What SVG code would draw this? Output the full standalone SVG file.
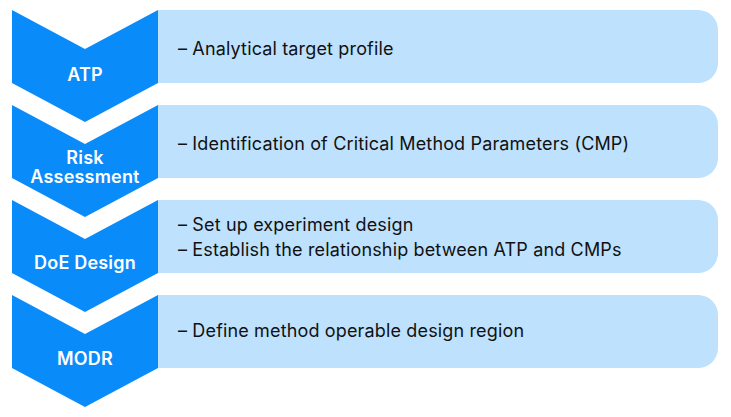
<svg xmlns="http://www.w3.org/2000/svg" width="731" height="417" viewBox="0 0 731 417">
<style>
.chev{fill:#0A8BFA}
.box{fill:#BEE1FD}
.lbl{font-family:Inter,"Noto Sans","Liberation Sans",sans-serif;font-size:18px;font-weight:600;fill:#fff;text-anchor:middle;letter-spacing:0.2px}
.txt{font-family:Inter,"Noto Sans","Liberation Sans",sans-serif;font-size:18px;fill:#111;letter-spacing:0.15px}
</style>
<rect width="731" height="417" fill="#fff"/>
<g id="step-atp">
<path class="box" d="M158 10H698A20 20 0 0 1 718 30V63A20 20 0 0 1 698 83H158Z"/>
<path class="chev" d="M12 10L85 49L158 10V83L85 122L12 83Z"/>
<text class="lbl" x="85" y="81">ATP</text>
<text class="txt" x="178" y="55">– Analytical target profile</text>
</g>
<g id="step-risk">
<path class="box" d="M158 105H698A20 20 0 0 1 718 125V158A20 20 0 0 1 698 178H158Z"/>
<path class="chev" d="M12 105L85 144L158 105V178L85 217L12 178Z"/>
<text class="lbl" x="85" y="164">Risk</text>
<text class="lbl" x="85" y="183">Assessment</text>
<text class="txt" x="178" y="150">– Identification of Critical Method Parameters (CMP)</text>
</g>
<g id="step-doe">
<path class="box" d="M158 200H698A20 20 0 0 1 718 220V253A20 20 0 0 1 698 273H158Z"/>
<path class="chev" d="M12 200L85 239L158 200V273L85 312L12 273Z"/>
<text class="lbl" x="85" y="269">DoE Design</text>
<text class="txt" x="178" y="231">– Set up experiment design</text>
<text class="txt" x="178" y="256">– Establish the relationship between ATP and CMPs</text>
</g>
<g id="step-modr">
<path class="box" d="M158 295H698A20 20 0 0 1 718 315V348A20 20 0 0 1 698 368H158Z"/>
<path class="chev" d="M12 295L85 334L158 295V368L85 407L12 368Z"/>
<text class="lbl" x="85" y="365">MODR</text>
<text class="txt" x="178" y="337">– Define method operable design region</text>
</g>
<g id="connectors"/>
</svg>
